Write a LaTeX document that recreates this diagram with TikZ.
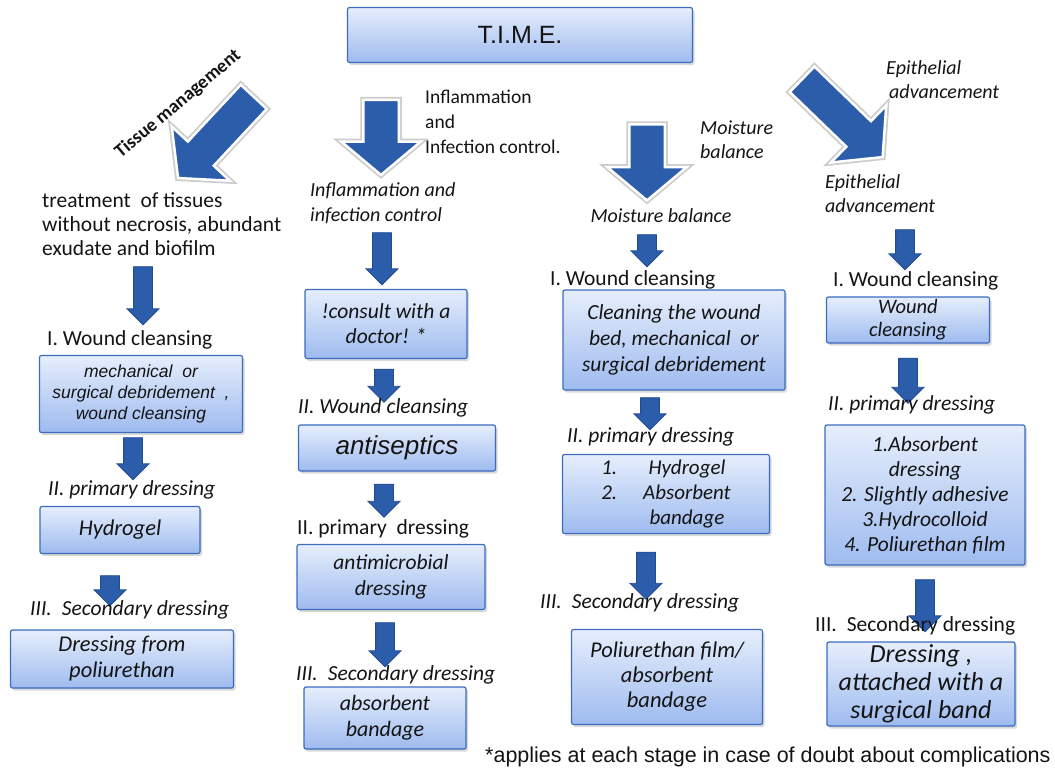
\documentclass[tikz,border=0pt]{standalone}
\usepackage{fontspec}
\setmainfont{Carlito}
\newfontfamily\arialfont{Liberation Sans}
\usetikzlibrary{shapes.arrows, shadows}
\definecolor{BoxTop}{HTML}{E6EEFC}
\definecolor{BoxBottom}{HTML}{9EBBEF}
\definecolor{BoxLine}{HTML}{3C6BC0}
\definecolor{ArrowBlue}{HTML}{2C5DAB}
\definecolor{ArrowLine}{HTML}{214C92}
\definecolor{Ink}{HTML}{141414}

\begin{document}
\begin{tikzpicture}[x=1pt, y=-1pt,
        box/.style={draw=BoxLine, line width=1.2pt, rounded corners=2pt,
            top color=BoxTop, bottom color=BoxBottom,
            drop shadow={opacity=0.3, shadow xshift=2pt, shadow yshift=-2.5pt},
            align=center, inner sep=2pt, text=Ink,
            font=\itshape\fontsize{22}{25}\selectfont},
        bigarrow/.style={single arrow, fill=ArrowBlue, draw=white, line width=2.5pt,
            preaction={draw=gray!40, line width=6pt},
            inner xsep=0pt, inner ysep=16.5pt, single arrow head extend=22pt,
            single arrow tip angle=100},
        smallarrow/.style={single arrow, fill=ArrowBlue, draw=ArrowLine, line width=0.8pt,
            rotate=-90, inner xsep=0pt, inner ysep=9pt, single arrow head extend=6.5pt},
        lbl/.style={anchor=west, inner sep=0pt, text=Ink, align=left,
            font=\fontsize{21.5}{24}\selectfont},
        ilbl/.style={lbl, font=\itshape\fontsize{21.5}{24}\selectfont}]
    \useasboundingbox (0,0) rectangle (1055,777);

    \node[box, minimum width=345pt, minimum height=55pt, font=\arialfont\fontsize{25}{30}\selectfont] (time) at (520,35) {T.I.M.E.};

    \node[bigarrow, minimum height=111pt, rotate=-133] (tissuearrow) at (221,132) {};
    \node[bigarrow, minimum height=75pt, rotate=-90] (inflarrow) at (381,130) {};
    \node[bigarrow, minimum height=76pt, rotate=-90] (moistarrow) at (647,155) {};
    \node[bigarrow, minimum height=112pt, rotate=-44] (epitharrow) at (837,113) {};

    \node[lbl, anchor=center, rotate=40, font=\bfseries\fontsize{19}{22}\selectfont] (tissuetag) at (178,104) {Tissue management};
    \node[lbl, font=\fontsize{19.5}{25}\selectfont] (infltag) at (425,122) {Inflammation\\and\\Infection control.};
    \node[ilbl, font=\itshape\fontsize{20}{24}\selectfont] (moisttag) at (700,140) {Moisture\\balance};
    \node[ilbl, font=\itshape\fontsize{20}{24}\selectfont] (epithtag) at (886,80) {Epithelial\\\hspace{3pt}advancement};

    \node[lbl, font=\fontsize{21.5}{24}\selectfont] (tissuehead) at (42,224) {treatment\ \ of tissues\\without necrosis, abundant\\exudate and biofilm};
    \node[ilbl, font=\itshape\fontsize{20}{25}\selectfont] (inflhead) at (310,203) {Inflammation and\\infection control};
    \node[ilbl, anchor=center, font=\itshape\fontsize{20}{24}\selectfont] (moisthead) at (661,216) {Moisture balance};
    \node[ilbl, font=\itshape\fontsize{20}{24}\selectfont] (epithhead) at (825,194) {Epithelial\\advancement};

    \node[smallarrow, minimum height=58pt] (tarrow1) at (143,291) {};
    \node[lbl] (tclean) at (47,340) {I. Wound cleansing};
    \node[box, minimum width=203pt, minimum height=77pt, font=\arialfont\itshape\fontsize{17.5}{21}\selectfont] (tcleanbox) at (141,394) {mechanical\ \ or\\surgical debridement\ \ ,\\wound cleansing};
    \node[smallarrow, minimum height=42pt] (tarrow2) at (133,454) {};
    \node[ilbl] (tprimary) at (48,490) {II. primary dressing};
    \node[box, minimum width=160pt, minimum height=47pt, font=\itshape\fontsize{22.5}{25}\selectfont] (tprimarybox) at (120,530) {Hydrogel};
    \node[smallarrow, minimum height=30pt] (tarrow3) at (110,586) {};
    \node[ilbl] (tsecondary) at (30,610) {III.\hspace{10pt}Secondary dressing};
    \node[box, minimum width=223pt, minimum height=58pt, font=\itshape\fontsize{22.5}{26}\selectfont] (tsecondarybox) at (122,659) {Dressing from\\poliurethan};

    \node[smallarrow, minimum height=52pt] (iarrow1) at (382,254) {};
    \node[box, minimum width=162pt, minimum height=69pt, font=\itshape\fontsize{21.5}{25}\selectfont] (iconsultbox) at (386,324) {!consult with a\\doctor! *};
    \node[smallarrow, minimum height=33pt] (iarrow2) at (384,381) {};
    \node[ilbl] (iclean) at (298,408) {II. Wound cleansing};
    \node[box, minimum width=197pt, minimum height=46pt, font=\arialfont\itshape\fontsize{26}{30}\selectfont] (icleanbox) at (397,448) {antiseptics};
    \node[smallarrow, minimum height=33pt] (iarrow3) at (384,496) {};
    \node[lbl] (iprimary) at (297,529) {II. primary\ \ dressing};
    \node[box, minimum width=188pt, minimum height=65pt, font=\itshape\fontsize{21.5}{26}\selectfont] (iprimarybox) at (391,577) {antimicrobial\\dressing};
    \node[smallarrow, minimum height=44pt] (iarrow4) at (385,640) {};
    \node[ilbl] (isecondary) at (296,675) {III.\hspace{10pt}Secondary dressing};
    \node[box, minimum width=162pt, minimum height=62pt, font=\itshape\fontsize{22}{26}\selectfont] (isecondarybox) at (385,718) {absorbent\\bandage};

    \node[smallarrow, minimum height=32pt] (marrow1) at (647,246) {};
    \node[lbl] (mclean) at (550,280) {I. Wound cleansing};
    \node[box, minimum width=222pt, minimum height=100pt, font=\itshape\fontsize{21.5}{26}\selectfont] (mcleanbox) at (674,340) {Cleaning the wound\\bed, mechanical\ \ or\\surgical debridement};
    \node[smallarrow, minimum height=32pt] (marrow2) at (650,409) {};
    \node[ilbl] (mprimary) at (567,437) {II. primary dressing};
    \node[box, minimum width=207pt, minimum height=75pt, font=\itshape\fontsize{21}{25}\selectfont] (mprimarybox) at (666,494) {\begin{tabular}{@{}r@{\hspace{26pt}}c@{}}1. & Hydrogel\\2. & Absorbent\\ & bandage\end{tabular}};
    \node[smallarrow, minimum height=47pt] (marrow3) at (646,571) {};
    \node[ilbl] (msecondary) at (540,603) {III.\hspace{10pt}Secondary dressing};
    \node[box, minimum width=191pt, minimum height=95pt, font=\itshape\fontsize{22.5}{25}\selectfont] (msecondarybox) at (667,677) {Poliurethan film/\\absorbent\\bandage};

    \node[smallarrow, minimum height=40pt] (earrow1) at (905,245) {};
    \node[lbl] (eclean) at (833,281) {I. Wound cleansing};
    \node[box, minimum width=163pt, minimum height=46pt, font=\itshape\fontsize{20.5}{23}\selectfont] (ecleanbox) at (908,320) {Wound\\cleansing};
    \node[smallarrow, minimum height=45pt] (earrow2) at (908,376) {};
    \node[ilbl] (eprimary) at (828,405) {II. primary dressing};
    \node[box, minimum width=200pt, minimum height=140pt, font=\itshape\fontsize{21.5}{25}\selectfont] (eprimarybox) at (925,495) {1.Absorbent\\dressing\\2. Slightly adhesive\\3.Hydrocolloid\\4. Poliurethan film};
    \node[smallarrow, minimum height=52pt] (earrow3) at (925,601) {};
    \node[lbl] (esecondary) at (815,626) {III.\hspace{10pt}Secondary dressing};
    \node[box, minimum width=188pt, minimum height=84pt, font=\itshape\fontsize{26}{28}\selectfont] (esecondarybox) at (921,684) {Dressing ,\\attached with a\\surgical band};

    \node[lbl, font=\arialfont\fontsize{21.5}{25}\selectfont] (footnote) at (485,757) {*applies at each stage in case of doubt about complications};
\end{tikzpicture}
\end{document}
